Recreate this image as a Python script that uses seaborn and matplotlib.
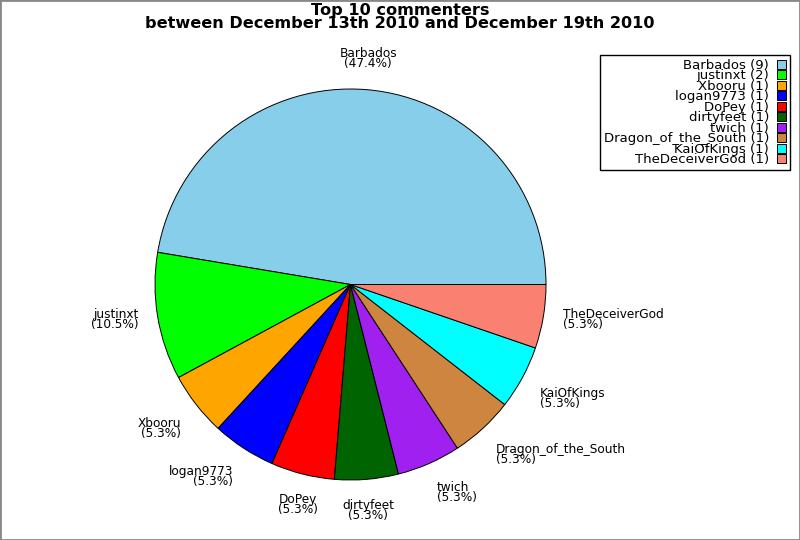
import matplotlib
matplotlib.use("Agg")
import matplotlib.pyplot as plt
import matplotlib.patches as mpatches
import seaborn as sns
import numpy as np

names = ["Barbados", "justinxt", "Xbooru", "logan9773", "DoPey", "dirtyfeet",
         "twich", "Dragon_of_the_South", "KaiOfKings", "TheDeceiverGod"]
counts = [9, 2, 1, 1, 1, 1, 1, 1, 1, 1]
colors = ["#87ceeb", "#00ff00", "#ffa500", "#0000ff", "#ff0000", "#006400",
          "#a020f0", "#cd853f", "#00ffff", "#fa8072"]
title_lines = ["Top 10 commenters",
               "between December 13th 2010 and December 19th 2010"]

sns.set_theme(style="white")
plt.rcParams['font.family'] = ['DejaVu Sans']
plt.rcParams['text.color'] = 'black'

fig = plt.figure(figsize=(8, 5.4), dpi=100)
fig.patch.set_facecolor("white")
fig.add_artist(mpatches.Rectangle((0, 0), 1, 1, transform=fig.transFigure,
                                  fill=False, edgecolor="#888888", lw=2))

ax = fig.add_axes([155 / 800, 60 / 540, 391 / 800, 391 / 540])
total = sum(counts)
labels = [f"{n}\n({c / total * 100:.1f}%)" for n, c in zip(names, counts)]
wedges, texts = ax.pie(counts, labels=labels, colors=colors, startangle=0,
                       counterclock=True, labeldistance=1.1,
                       wedgeprops=dict(edgecolor="black", linewidth=0.7),
                       textprops=dict(fontsize=8.7, linespacing=0.7, color="black"))
ax.set_xlim(-1, 1)
ax.set_ylim(-1, 1)

for t in texts:
    x, y = t.get_position()
    r = np.hypot(x, y)
    c, s = x / r, y / r
    t.set_ha("center" if abs(c) < 0.3 else ("left" if c > 0 else "right"))
    t.set_va("center" if abs(s) < 0.3 else ("bottom" if s > 0 else "top"))

fig.text(0.5, 1 - 3 / 540, "\n".join(title_lines), ha="center", va="top",
         fontsize=11.6, fontweight="bold", linespacing=0.8, color="black")

leg_labels = [f"{n} ({c})" for n, c in zip(names, counts)]
leg = fig.legend(wedges, leg_labels, loc="upper right",
                 bbox_to_anchor=(790 / 800, 1 - 55 / 540),
                 bbox_transform=fig.transFigure, markerfirst=False,
                 frameon=True, fancybox=False, framealpha=1, edgecolor="black",
                 borderaxespad=0, handlelength=0.7, handleheight=0.7,
                 handletextpad=0.6, labelspacing=-0.19, fontsize=9.5,
                 borderpad=0.3, labelcolor="black")
leg.get_frame().set_linewidth(1)

fig.savefig("out.png", dpi=100)
